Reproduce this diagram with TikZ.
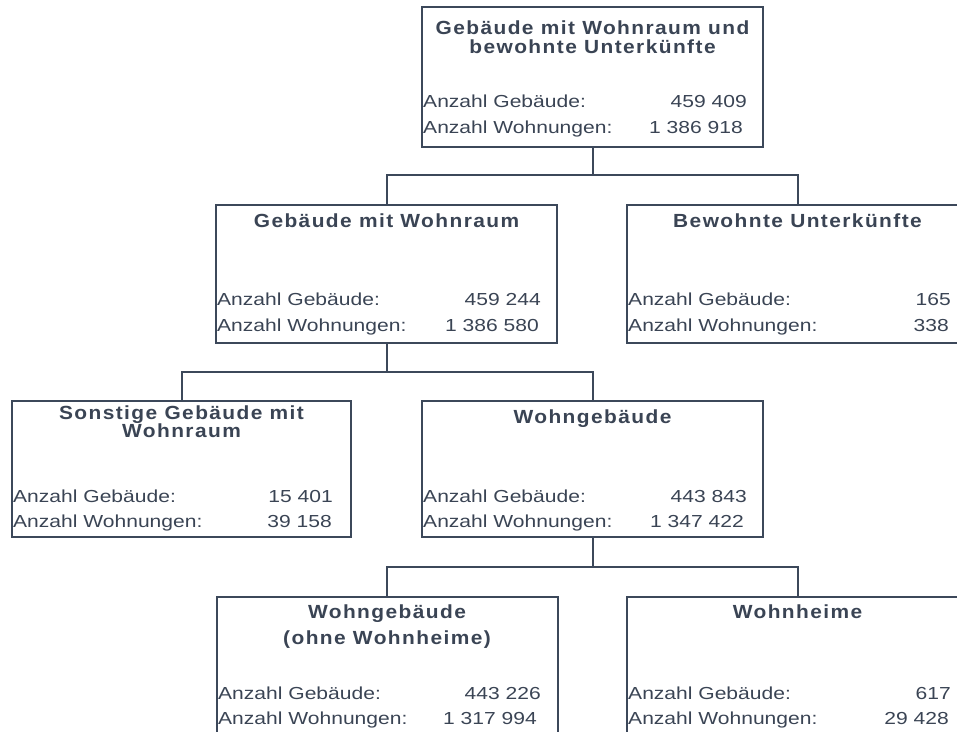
\documentclass[tikz,border=0pt]{standalone}
\usepackage{fontspec}
\setmainfont{Liberation Sans}
\newfontfamily\regf{Liberation Sans}[FakeStretch=1.21]
\newfontfamily\titf{Liberation Sans}[FakeStretch=1.1,LetterSpace=7.5]
\definecolor{ink}{RGB}{60,72,90}
\definecolor{txt}{RGB}{58,68,84}
\tikzset{
  box/.style={draw=ink, line width=2pt, rectangle, minimum width=341pt, minimum height=#1, inner sep=0pt},
  box/.default=138pt,
  lab/.style={anchor=base west, inner sep=0pt, text=txt, font=\regf\fontsize{17.4pt}{20pt}\selectfont},
  num/.style={anchor=base east, inner sep=0pt, text=txt, font=\regf\fontsize{17.4pt}{20pt}\selectfont},
  ttl/.style={anchor=base, inner sep=0pt, text=txt, font=\titf\bfseries\fontsize{19pt}{20pt}\selectfont},
  conn/.style={draw=ink, line width=2pt}
}
\begin{document}
\begin{tikzpicture}[x=1pt, y=-1pt]
\useasboundingbox (0,0) rectangle (957,731);
\clip (0,0) rectangle (957,731);
% boxes
\node[box=140pt] (top) at (592.5,77) {};
\node[box] (gmw) at (386.5,273.5) {};
\node[box] (bu)  at (797.5,273.5) {};
\node[box=136pt, minimum width=339pt] (sgw) at (181.5,469) {};
\node[box=136pt] (wg)  at (592.5,469) {};
\node[box=140pt] (wgo) at (387,667) {};
\node[box=140pt] (wh)  at (797.5,667) {};
% connectors
\coordinate (j1) at (592.5,175);
\coordinate (j2) at (386.5,372);
\coordinate (j3) at (592.5,567);
\draw[conn] (top.south) -- (j1);
\draw[conn] (gmw.north) -- (gmw.north |- j1) -- (bu.north |- j1) -- (bu.north);
\draw[conn] (gmw.south) -- (j2);
\draw[conn] (sgw.north) -- (sgw.north |- j2) -- (wg.north |- j2) -- (wg.north);
\draw[conn] (wg.south) -- (j3);
\draw[conn] (wgo.north) -- (wgo.north |- j3) -- (wh.north |- j3) -- (wh.north);
% top box texts
\node[ttl] (t1a) at (592.5,34) {Gebäude mit Wohnraum und};
\node[ttl] (t1b) at (592.5,53) {bewohnte Unterkünfte};
\node[lab] (l1a) at (423,107) {Anzahl Gebäude:};
\node[lab] (l1b) at (423,133) {Anzahl Wohnungen:};
\node[num] (n1a) at (747,107) {459 409};
\node[num] (n1b) at (743,133) {1 386 918};
% Gebaeude mit Wohnraum
\node[ttl] (t2) at (386.5,227) {Gebäude mit Wohnraum};
\node[lab] (l2a) at (217,305) {Anzahl Gebäude:};
\node[lab] (l2b) at (217,331) {Anzahl Wohnungen:};
\node[num] (n2a) at (541,305) {459 244};
\node[num] (n2b) at (539,331) {1 386 580};
% Bewohnte Unterkuenfte
\node[ttl] (t3) at (797.5,227) {Bewohnte Unterkünfte};
\node[lab] (l3a) at (628,305) {Anzahl Gebäude:};
\node[lab] (l3b) at (628,331) {Anzahl Wohnungen:};
\node[num] (n3a) at (951,305) {165};
\node[num] (n3b) at (949,331) {338};
% Sonstige Gebaeude mit Wohnraum
\node[ttl] (t4a) at (181.5,419) {Sonstige Gebäude mit};
\node[ttl] (t4b) at (181.5,437) {Wohnraum};
\node[lab] (l4a) at (13,502) {Anzahl Gebäude:};
\node[lab] (l4b) at (13,527) {Anzahl Wohnungen:};
\node[num] (n4a) at (333,502) {15 401};
\node[num] (n4b) at (332,527) {39 158};
% Wohngebaeude
\node[ttl] (t5) at (592.5,423) {Wohngebäude};
\node[lab] (l5a) at (423,502) {Anzahl Gebäude:};
\node[lab] (l5b) at (423,527) {Anzahl Wohnungen:};
\node[num] (n5a) at (747,502) {443 843};
\node[num] (n5b) at (744,527) {1 347 422};
% Wohngebaeude ohne Wohnheime
\node[ttl] (t6a) at (387,618) {Wohngebäude};
\node[ttl] (t6b) at (387,644) {(ohne Wohnheime)};
\node[lab] (l6a) at (218,699) {Anzahl Gebäude:};
\node[lab] (l6b) at (218,724) {Anzahl Wohnungen:};
\node[num] (n6a) at (541,699) {443 226};
\node[num] (n6b) at (537,724) {1 317 994};
% Wohnheime
\node[ttl] (t7) at (797.5,618) {Wohnheime};
\node[lab] (l7a) at (628,699) {Anzahl Gebäude:};
\node[lab] (l7b) at (628,724) {Anzahl Wohnungen:};
\node[num] (n7a) at (951,699) {617};
\node[num] (n7b) at (949,724) {29 428};
\end{tikzpicture}
\end{document}
